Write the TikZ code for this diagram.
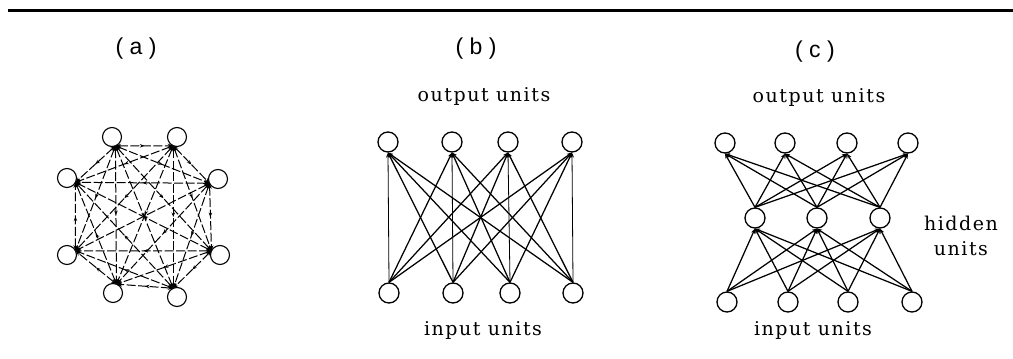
\documentclass[tikz,border=0pt]{standalone}
\usepackage{fontspec}
\newfontfamily\sflab{Liberation Sans}
\newfontfamily\serlab{DejaVu Serif}[LetterSpace=8]
\usetikzlibrary{calc,arrows.meta,decorations.markings}
\begin{document}
\begin{tikzpicture}[x=1pt,y=-1pt,
  unit/.style={circle,draw,line width=1.3pt,minimum size=20pt,inner sep=0pt},
  aunit/.style={circle,draw,line width=1.1pt,minimum size=19pt,inner sep=0pt},
  conn/.style={line width=1.25pt,-{Stealth[length=5pt,width=4pt]}},
  vconn/.style={line width=0.8pt,-{Stealth[length=5pt,width=4pt]}},
  aconn/.style={line width=1pt,dash pattern=on 9pt off 2.5pt,
    {Stealth[length=5.5pt,width=4pt]}-{Stealth[length=5.5pt,width=4pt]},
    postaction={decorate},
    decoration={markings,mark=at position 0.5 with {\arrow{Stealth[length=4.5pt,width=3.5pt]}}}},
  lab/.style={font=\serlab\fontsize{19}{25}\selectfont},
  plab/.style={font=\sflab\fontsize{23}{27}\selectfont}]
\useasboundingbox (0,0) rectangle (1013,359);
\coordinate (r0) at (8,10);
\coordinate (r1) at (1013,10);
\draw[line width=3pt] (r0) -- (r1);

% ---------- (a) ----------
\node[plab] (la) at (136,49) {( a )};
\node[aunit] (a1) at (112,137) {};
\node[aunit] (a2) at (177,137) {};
\node[aunit] (a3) at (218,179) {};
\node[aunit] (a4) at (220,255) {};
\node[aunit] (a5) at (177,297) {};
\node[aunit] (a6) at (113,293) {};
\node[aunit] (a7) at (67,255) {};
\node[aunit] (a8) at (67,178) {};
\coordinate (ac) at (143,217);
\foreach \i in {1,...,8}{
  \coordinate (p\i) at ($(a\i.center)!9.5pt!(ac)$);
}
\foreach \i in {1,...,7}{
  \pgfmathtruncatemacro\s{\i+1}
  \foreach \j in {\s,...,8}{
    \draw[aconn] (p\i) -- (p\j);
  }
}

% ---------- (b) ----------
\node[plab] (lb) at (476,49) {( b )};
\node[lab] (bol) at (484,96) {output units};
\node[lab] (bil) at (483,330) {input units};
\node[unit] (bo1) at (388,142) {};
\node[unit] (bo2) at (452,142) {};
\node[unit] (bo3) at (508,142) {};
\node[unit] (bo4) at (572,142) {};
\node[unit] (bi1) at (389,293) {};
\node[unit] (bi2) at (453,293) {};
\node[unit] (bi3) at (510,293) {};
\node[unit] (bi4) at (573,293) {};
\foreach \i in {1,...,4}{
  \foreach \j in {1,...,4}{
    \ifnum\i=\j
      \draw[vconn] (bi\j.north) -- (bo\i.south);
    \else
      \draw[conn] (bi\j.north) -- (bo\i.south);
    \fi
  }
}

% ---------- (c) ----------
\node[plab] (lc) at (815,52) {( c )};
\node[lab] (col) at (819,97) {output units};
\node[lab] (cil) at (813,330) {input units};
\node[lab,align=center] (chl) at (961,236) {hidden\\units};
\node[unit] (co1) at (725,143) {};
\node[unit] (co2) at (785,143) {};
\node[unit] (co3) at (847,143) {};
\node[unit] (co4) at (908,143) {};
\node[unit] (ch1) at (755,218) {};
\node[unit] (ch2) at (817,218) {};
\node[unit] (ch3) at (880,218) {};
\node[unit] (ci1) at (727,302) {};
\node[unit] (ci2) at (788,302) {};
\node[unit] (ci3) at (848,302) {};
\node[unit] (ci4) at (912,302) {};
\foreach \h in {1,2,3}{
  \foreach \o in {1,...,4}{
    \draw[conn] (ch\h.north) -- (co\o.south);
  }
  \foreach \n in {1,...,4}{
    \draw[conn] (ci\n.north) -- (ch\h.south);
  }
}
\end{tikzpicture}
\end{document}
